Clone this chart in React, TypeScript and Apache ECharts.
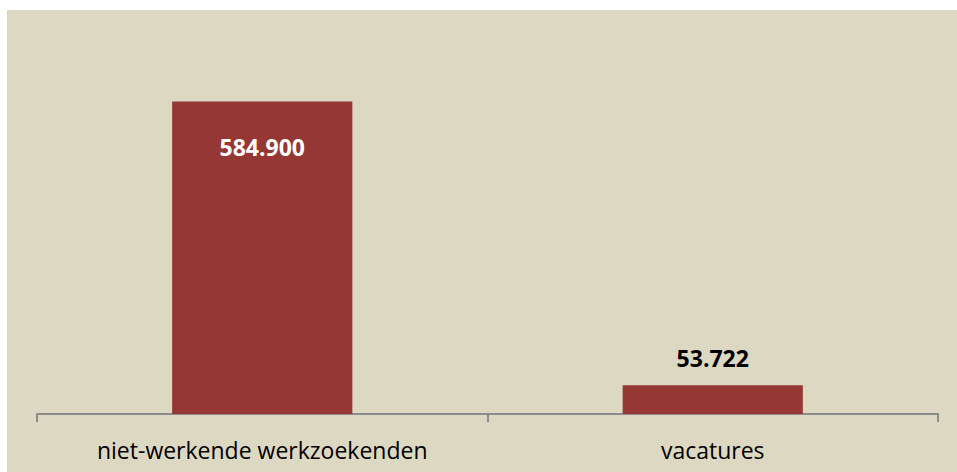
import React, { useEffect, useRef } from "react";
import * as echarts from "echarts";

const categories = ["niet-werkende werkzoekenden", "vacatures"];
const values = [584900, 53722];
const labelColors = ["#FFFFFF", "#000000"];
const labelOffsets = [46, -27];

function fmt(v: number): string {
  return String(v).replace(/\B(?=(\d{3})+(?!\d))/g, ".");
}

export default function App() {
  const ref = useRef<HTMLDivElement>(null);
  useEffect(() => {
    if (!ref.current) return;
    const chart = echarts.init(ref.current, null, { renderer: "svg" });
    chart.setOption({
      animation: false,
      backgroundColor: "#FFFFFF",
      graphic: [
        {
          type: "rect",
          z: -10,
          shape: { x: 7, y: 10, width: 950, height: 462 },
          style: { fill: "#DDD8C2" },
          silent: true,
        },
      ],
      grid: { left: 37, right: 19, top: 40, bottom: 58 },
      xAxis: {
        type: "category",
        data: categories,
        axisLine: { lineStyle: { color: "#8C8C8C", width: 2 } },
        axisTick: { show: true, alignWithLabel: false, length: 8, lineStyle: { color: "#8C8C8C", width: 2 } },
        axisLabel: {
          margin: 24,
          fontFamily: "Open Sans",
          fontSize: 23,
          color: "#000000",
        },
      },
      yAxis: { type: "value", min: 0, max: 700000, show: false, splitLine: { show: false } },
      series: [
        {
          type: "bar",
          barWidth: "40%",
          itemStyle: { color: "#953735" },
          data: values.map((v, i) => ({
            value: v,
            label: {
              show: true,
              position: ["50%", labelOffsets[i]],
              align: "center",
              verticalAlign: "middle",
              color: labelColors[i],
              fontFamily: "Open Sans",
              fontWeight: "bold",
              fontSize: 23,
              formatter: () => fmt(v),
            },
          })),
        },
      ],
    });
    return () => chart.dispose();
  }, []);
  return (
    <div
      ref={ref}
      style={{ position: "fixed", left: 0, top: 0, width: 957, height: 472 }}
    />
  );
}
